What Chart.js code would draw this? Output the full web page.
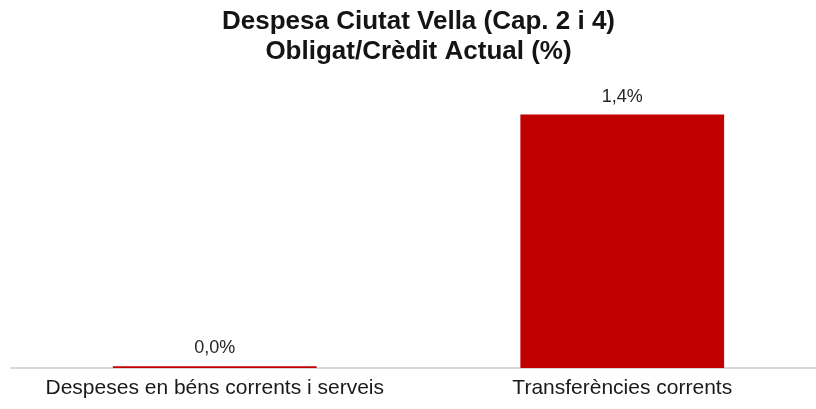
<!DOCTYPE html>
<html>
<head>
<meta charset="utf-8">
<script src="https://cdn.jsdelivr.net/npm/chart.js@4.4.1/dist/chart.umd.min.js"></script>
<style>
  html, body { margin: 0; padding: 0; background: #fff; overflow: hidden; }
  /* the axis runs past the right edge in the original, so the canvas is a bit wider than the window */
  #wrap { width: 826px; height: 409px; position: relative; }
</style>
</head>
<body>
<div id="wrap"><canvas id="chart"></canvas></div>
<script>
/* ================================
   Data
================================ */
const categories = ["Despeses en béns corrents i serveis", "Transferències corrents"];
const values = [0.01, 1.4];
const valueLabels = ["0,0%", "1,4%"];
const titleLines = ["Despesa Ciutat Vella (Cap. 2 i 4)", "Obligat/Crèdit Actual (%)"];

const FONT = "'Liberation Sans', Arial, sans-serif";

/* ================================
   Value labels above bars
================================ */
const barLabels = {
  id: "barLabels",
  afterDatasetsDraw(chart) {
    const ctx = chart.ctx;
    const meta = chart.getDatasetMeta(0);
    ctx.save();
    ctx.font = "18px " + FONT;
    ctx.fillStyle = "#262626";
    ctx.textAlign = "center";
    ctx.textBaseline = "middle";
    meta.data.forEach((bar, i) => {
      ctx.fillText(valueLabels[i], bar.x, bar.y - 18);
    });
    ctx.restore();
  }
};

new Chart(document.getElementById("chart"), {
  type: "bar",
  data: {
    labels: categories,
    datasets: [{
      data: values,
      backgroundColor: "#c00000",
      categoryPercentage: 1,
      barPercentage: 0.5
    }]
  },
  options: {
    responsive: true,
    maintainAspectRatio: false,
    animation: false,
    layout: { padding: { left: 11, right: 0, top: 0, bottom: 0 } },
    plugins: {
      legend: { display: false },
      tooltip: { enabled: false },
      title: {
        display: true,
        text: titleLines,
        color: "#141414",
        font: { family: FONT, size: 26, weight: "bold", lineHeight: 1.15 },
        padding: { top: 7, bottom: 8 }
      }
    },
    scales: {
      x: {
        grid: { display: false, drawTicks: false },
        border: { display: true, color: "#d9d9d9", width: 2 },
        ticks: {
          color: "#1a1a1a",
          padding: 10,
          maxRotation: 0,
          font: { family: FONT, size: 21, lineHeight: 1 }
        }
      },
      y: {
        display: false,
        min: 0,
        max: 1.62
      }
    }
  },
  plugins: [barLabels]
});
</script>
</body>
</html>
